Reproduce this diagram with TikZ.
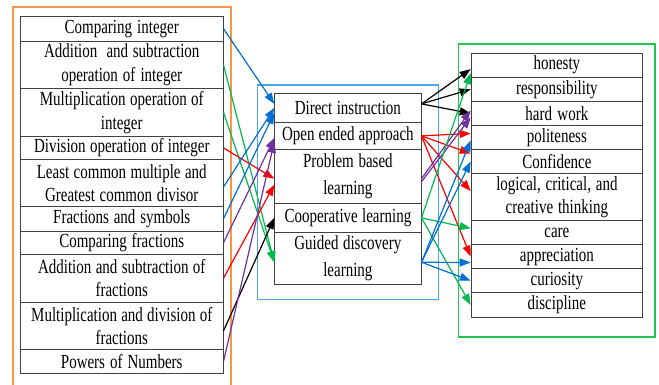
\documentclass[tikz,border=0pt]{standalone}
\usepackage{fontspec}
\setmainfont{Liberation Serif}[FakeStretch=0.75]
\usetikzlibrary{arrows.meta}
\definecolor{fOrange}{RGB}{247,150,70}
\definecolor{fBlue}{RGB}{80,160,235}
\definecolor{fGreen}{RGB}{30,200,80}
\definecolor{aBlue}{RGB}{0,112,210}
\definecolor{aGreen}{RGB}{0,185,80}
\definecolor{aRed}{RGB}{255,0,0}
\definecolor{aPurple}{RGB}{112,48,160}
\newcommand{\tightspace}{\spaceskip=4pt plus 1pt minus 1pt\relax}
\begin{document}
\begin{tikzpicture}[x=1pt,y=-1pt,
 cell/.style={draw=black!75, line width=0.8pt, anchor=north west, inner sep=0pt, align=center, font=\fontsize{20}{23.5}\selectfont, execute at begin node=\tightspace},
 lcell/.style={cell, text width=202.7pt},
 mcell/.style={cell, text width=146.4pt, font=\fontsize{20}{27}\selectfont},
 rcell/.style={cell, text width=171.6pt},
 frame/.style={line width=1.6pt},
 conn/.style={line width=1.2pt, -{Triangle[length=11pt,width=8pt]}},
]
\useasboundingbox (0,0) rectangle (659,385);
% frames
\draw[frame, fOrange] (12.7,390) -- (12.7,7.3) -- (230.7,7.3) -- (230.7,390);
\draw[frame, fBlue, line width=1.3pt] (257.3,85) rectangle (438.3,299.3);
\draw[frame, fGreen] (458.3,44) rectangle (655,336.7);
% left column
\node[lcell, minimum height=24.7pt] (L1) at (20,16) {Comparing integer};
\node[lcell, minimum height=47.6pt] (L2) at (20,40.7) {Addition~ and subtraction\\operation of integer};
\node[lcell, minimum height=47.4pt] (L3) at (20,88.3) {Multiplication operation of\\integer};
\node[lcell, minimum height=23.6pt] (L4) at (20,135.7) {Division operation of integer};
\node[lcell, minimum height=46.7pt] (L5) at (20,159.3) {Least common multiple and\\Greatest common divisor};
\node[lcell, minimum height=24.7pt] (L6) at (20,206) {Fractions and symbols};
\node[lcell, minimum height=23.3pt] (L7) at (20,230.7) {Comparing fractions};
\node[lcell, minimum height=47.7pt] (L8) at (20,254) {Addition and subtraction of\\fractions};
\node[lcell, minimum height=47.6pt] (L9) at (20,301.7) {Multiplication and division of\\fractions};
\node[lcell, minimum height=23.4pt] (L10) at (20,349.3) {Powers of Numbers};
% middle column
\node[mcell, minimum height=28.4pt] (M1) at (274.3,93.3) {Direct instruction};
\node[mcell, minimum height=27.6pt] (M2) at (274.3,121.7) {Open ended approach};
\node[mcell, minimum height=54pt] (M3) at (274.3,149.3) {Problem based\\learning};
\node[mcell, minimum height=28.4pt] (M4) at (274.3,203.3) {Cooperative learning};
\node[mcell, minimum height=52.3pt] (M5) at (274.3,231.7) {Guided discovery\\learning};
% right column
\node[rcell, minimum height=24pt] (R1) at (470.7,52.7) {honesty};
\node[rcell, minimum height=24.3pt] (R2) at (470.7,76.7) {responsibility};
\node[rcell, minimum height=24pt] (R3) at (470.7,101) {hard work};
\node[rcell, minimum height=24pt] (R4) at (470.7,125) {politeness};
\node[rcell, minimum height=24.3pt] (R5) at (470.7,149) {Confidence};
\node[rcell, minimum height=46.7pt] (R6) at (470.7,173.3) {logical, critical, and\\creative thinking};
\node[rcell, minimum height=24pt] (R7) at (470.7,220) {care};
\node[rcell, minimum height=24.3pt] (R8) at (470.7,244) {appreciation};
\node[rcell, minimum height=24pt] (R9) at (470.7,268.3) {curiosity};
\node[rcell, minimum height=24.4pt] (R10) at (470.7,292.3) {discipline};
% left -> middle
\draw[conn, aBlue] (L1.east) -- ([yshift=4pt]M1.west);
\draw[conn, aGreen] (L2.east) -- ([yshift=-4pt]M5.west);
\draw[conn, aGreen] (L3.east) -- ([yshift=-4pt]M5.west);
\draw[conn, aRed] (L4.east) -- ([yshift=-2pt]M3.west);
\draw[conn, aBlue] ([yshift=-4pt]L5.east) -- (M1.west);
\draw[conn, aBlue] (L6.east) -- ([yshift=-5pt]M1.west);
\draw[conn, aPurple] (L7.east) -- ([yshift=-2pt]M2.west);
\draw[conn, aRed] (L8.east) -- ([yshift=-8pt]M3.west);
\draw[conn, black] ([yshift=-5pt]L9.east) -- (M4.west);
\draw[conn, aPurple] (L10.east) -- ([yshift=-6pt]M2.west);
% middle -> right
\draw[conn, black] ([yshift=4pt]M1.east) -- ([yshift=-4pt]R1.west);
\draw[conn, black] ([yshift=4pt]M1.east) -- (R2.west);
\draw[conn, black] ([yshift=4pt]M1.east) -- (R3.west);
\draw[conn, aRed] (M2.east) -- ([yshift=4pt]R4.west);
\draw[conn, aRed] (M2.east) -- ([yshift=8pt]R5.west);
\draw[conn, aRed] (M2.east) -- ([yshift=6pt]R6.west);
\draw[conn, aRed] (M2.east) -- (R8.west);
\draw[conn, aPurple] ([yshift=-2pt]M3.east) -- ([yshift=3pt]R3.west);
\draw[conn, aPurple] ([yshift=-5pt]M3.east) -- ([yshift=-4pt]R3.west);
\draw[conn, aGreen] (M4.east) -- ([yshift=-8pt]R1.west);
\draw[conn, aGreen] (M4.east) -- ([yshift=4pt]R7.west);
\draw[conn, aGreen] (M4.east) -- (R10.west);
\draw[conn, aBlue] ([yshift=-4pt]M5.east) -- ([yshift=-3pt]R4.west);
\draw[conn, aBlue] ([yshift=-4pt]M5.east) -- (R5.west);
\draw[conn, aBlue] ([yshift=-4pt]M5.east) -- ([yshift=-6pt]R8.west);
\draw[conn, aBlue] ([yshift=-4pt]M5.east) -- (R9.west);
\end{tikzpicture}
\end{document}
